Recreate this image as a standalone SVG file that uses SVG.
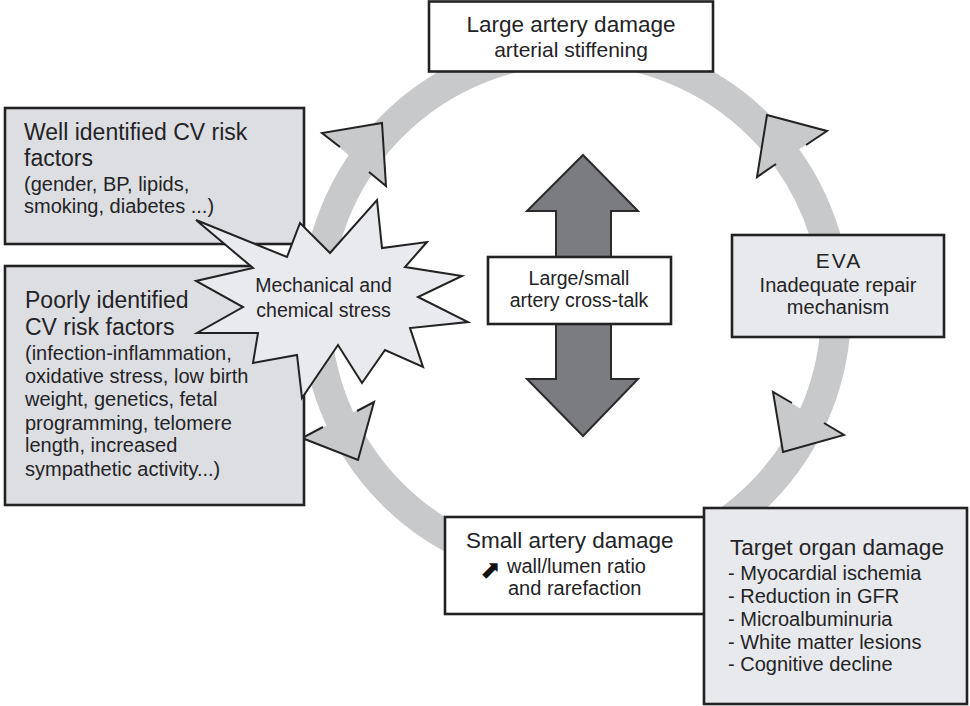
<svg xmlns="http://www.w3.org/2000/svg" width="970" height="706" viewBox="0 0 970 706">
<style>
text{font-family:"Liberation Sans",Arial,sans-serif;fill:#232326}
.h{font-size:22.5px}
.hl{font-size:23px}
.b{font-size:20px}
.c{text-anchor:middle}
.box{stroke:#222;stroke-width:2.6}
.white{fill:#ffffff}
.gray{fill:#dddee2}
.light{fill:#e8e9ec}
.head{fill:#c8c9cb;stroke:none}
.headline{fill:none;stroke:#222;stroke-width:2;stroke-linejoin:miter}
</style>
<rect width="970" height="706" fill="#ffffff"/>
<g id="connectors">
  <circle cx="576" cy="310" r="260" fill="none" stroke="#c8c9cb" stroke-width="30"/>
  <polygon class="head" points="382,123 322,133 386,186"/>
  <path class="headline" d="M340,147 L322,133 L382,123 L386,186 L369,172"/>
  <polygon class="head" points="767,115 827,131 757,177"/>
  <path class="headline" d="M806,145 L827,131 L767,115 L757,177 L776,164"/>
  <polygon class="head" points="783,452 773,392 844,435"/>
  <path class="headline" d="M792,403 L773,392 L783,452 L844,435 L824,423"/>
  <polygon class="head" points="358,460 374,402 302,438"/>
  <path class="headline" d="M357,411 L374,402 L358,460 L302,438 L323,427"/>
  <polygon points="583,155 638,211 611,211 611,379 638,379 583,436 527,379 556,379 556,211 527,211" fill="#7b7c7f" stroke="#2a2a2a" stroke-width="2"/>
</g>
<g id="large-artery">
  <rect class="box white" x="429" y="1.5" width="284" height="70"/>
  <text class="h c" x="571" y="32">Large artery damage</text>
  <text class="c" x="571" y="57" font-size="21">arterial stiffening</text>
</g>
<g id="well-identified">
  <rect class="box gray" x="5" y="108" width="299" height="136"/>
  <text class="hl" x="24" y="140">Well identified CV risk</text>
  <text class="hl" x="24" y="166">factors</text>
  <text class="b" x="24" y="191">(gender, BP, lipids,</text>
  <text class="b" x="24" y="213">smoking, diabetes ...)</text>
</g>
<g id="poorly-identified">
  <rect class="box gray" x="5" y="266" width="299" height="239"/>
  <text class="hl" x="25" y="308">Poorly identified</text>
  <text class="hl" x="25" y="335">CV risk factors</text>
  <text class="b" x="25" y="360">(infection-inflammation,</text>
  <text class="b" x="25" y="383">oxidative stress, low birth</text>
  <text class="b" x="25" y="406">weight, genetics, fetal</text>
  <text class="b" x="25" y="430">programming, telomere</text>
  <text class="b" x="25" y="452">length, increased</text>
  <text class="b" x="25" y="476">sympathetic activity...)</text>
</g>
<g id="eva">
  <rect class="box light" x="732" y="235" width="212" height="102"/>
  <text class="c" x="839" y="268" font-size="21" letter-spacing="2">EVA</text>
  <text class="b c" x="838" y="292">Inadequate repair</text>
  <text class="b c" x="838" y="314">mechanism</text>
</g>
<g id="cross-talk">
  <rect class="box white" x="488" y="257" width="183" height="67"/>
  <text class="c" x="579" y="285" font-size="19.5">Large/small</text>
  <text class="c" x="579" y="307" font-size="19.5">artery cross-talk</text>
</g>
<g id="small-artery">
  <rect class="box white" x="445" y="517" width="275" height="97"/>
  <text class="h" x="466" y="548">Small artery damage</text>
  <text x="480" y="578" font-size="25" style="font-family:'DejaVu Sans',sans-serif;fill:#111">⬈</text>
  <text class="b" x="507" y="573">wall/lumen ratio</text>
  <text class="b" x="508" y="595">and rarefaction</text>
</g>
<g id="target-organ">
  <rect class="box light" x="704" y="508" width="263" height="196"/>
  <text class="h" x="730" y="555">Target organ damage</text>
  <text class="b" x="728" y="580">- Myocardial ischemia</text>
  <text class="b" x="728" y="603">- Reduction in GFR</text>
  <text class="b" x="728" y="626">- Microalbuminuria</text>
  <text class="b" x="728" y="649">- White matter lesions</text>
  <text class="b" x="728" y="671">- Cognitive decline</text>
</g>
<g id="stress">
  <polygon points="196,220 287,257 300,223 330,253 377,200 382,248 427,242 405,267 462,276 418,297 468,322 410,328 423,367 385,350 362,383 338,345 302,398 297,355 253,363 258,333 197,333 243,307 196,281 253,268" fill="#e9eaee" stroke="#222" stroke-width="2" stroke-linejoin="miter"/>
  <text class="c" x="323.5" y="292" font-size="19.5">Mechanical and</text>
  <text class="c" x="323.5" y="317" font-size="19.5">chemical stress</text>
</g>
</svg>
